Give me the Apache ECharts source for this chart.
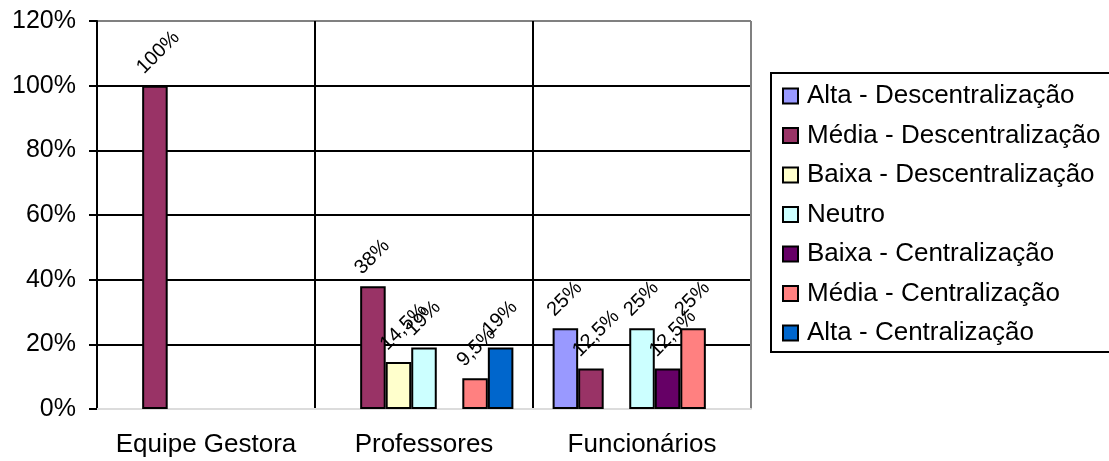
<!DOCTYPE html>
<html>
<head>
<meta charset="utf-8">
<script src="https://cdn.jsdelivr.net/npm/echarts@6/dist/echarts.min.js"></script>
<style>
  html, body { margin: 0; padding: 0; background: #fff; }
  #chart { width: 1109px; height: 461px; }
</style>
</head>
<body>
<div id="chart"></div>
<script>
// Categories and per-series values (percent). null = no bar in that group.
const categories = ['Equipe Gestora', 'Professores', 'Funcionários'];
const seriesNames = [
  'Alta - Descentralização',
  'Média - Descentralização',
  'Baixa - Descentralização',
  'Neutro',
  'Baixa - Centralização',
  'Média - Centralização',
  'Alta - Centralização'
];
const altaDesc   = [null, null, 25];
const mediaDesc  = [100, 38, 12.5];
const baixaDesc  = [null, 14.5, null];
const neutro     = [null, 19, 25];
const baixaCentr = [null, null, 12.5];
const mediaCentr = [null, 9.5, 25];
const altaCentr  = [null, 19, null];
const yTicks = [0, 20, 40, 60, 80, 100, 120];

const seriesValues = [altaDesc, mediaDesc, baixaDesc, neutro, baixaCentr, mediaCentr, altaCentr];
const colors = ['#9999FF', '#993366', '#FFFFCC', '#CCFFFF', '#660066', '#FF8080', '#0066CC'];

const FONT = 'Liberation Sans, Arial, sans-serif';

const chart = echarts.init(document.getElementById('chart'), null, { renderer: 'canvas' });

const series = seriesValues.map((vals, i) => ({
  name: seriesNames[i],
  type: 'bar',
  data: vals,
  barGap: '0%',
  barCategoryGap: '18%',
  itemStyle: { color: colors[i], borderColor: '#000', borderWidth: 2 },
  label: {
    show: true,
    position: [-2, -15],
    rotate: 45,
    align: 'left',
    verticalAlign: 'middle',
    fontFamily: FONT,
    fontSize: 20,
    color: '#000',
    formatter: p => String(p.value).replace('.', ',') + '%'
  }
}));

chart.setOption({
  animation: false,
  backgroundColor: '#fff',
  color: colors,
  grid: { left: 97, right: 358, top: 21, bottom: 52, containLabel: false },
  xAxis: {
    type: 'category',
    data: categories,
    axisLine: { show: true, lineStyle: { color: '#dcdcdc', width: 2 } },
    axisTick: { show: false },
    axisLabel: { interval: 0, fontFamily: FONT, fontSize: 26, color: '#000', margin: 23 },
    splitLine: { show: true, interval: 0, lineStyle: { color: ['#000', '#000', '#000', '#808080'], width: 2 } }
  },
  yAxis: {
    type: 'value',
    min: yTicks[0],
    max: yTicks[yTicks.length - 1],
    interval: yTicks[1] - yTicks[0],
    axisLine: { show: true, lineStyle: { color: '#000', width: 2 } },
    axisTick: { show: true, length: 8, lineStyle: { color: '#000', width: 2 } },
    axisLabel: { fontFamily: FONT, fontSize: 25, color: '#000', margin: 21, formatter: '{value}%' },
    splitLine: {
      show: true,
      lineStyle: { color: ['#dcdcdc', '#000', '#000', '#000', '#000', '#000', '#808080'], width: 2 }
    }
  },
  legend: {
    orient: 'vertical',
    left: 771,
    top: 73,
    data: seriesNames,
    icon: 'rect',
    itemWidth: 15,
    itemHeight: 15,
    itemGap: 13.5,
    padding: [10, 10, 6, 11],
    borderColor: '#000',
    borderWidth: 2,
    textStyle: { fontFamily: FONT, fontSize: 26, color: '#000', padding: [0, 0, 0, 4] }
  },
  series: series
});
</script>
</body>
</html>
